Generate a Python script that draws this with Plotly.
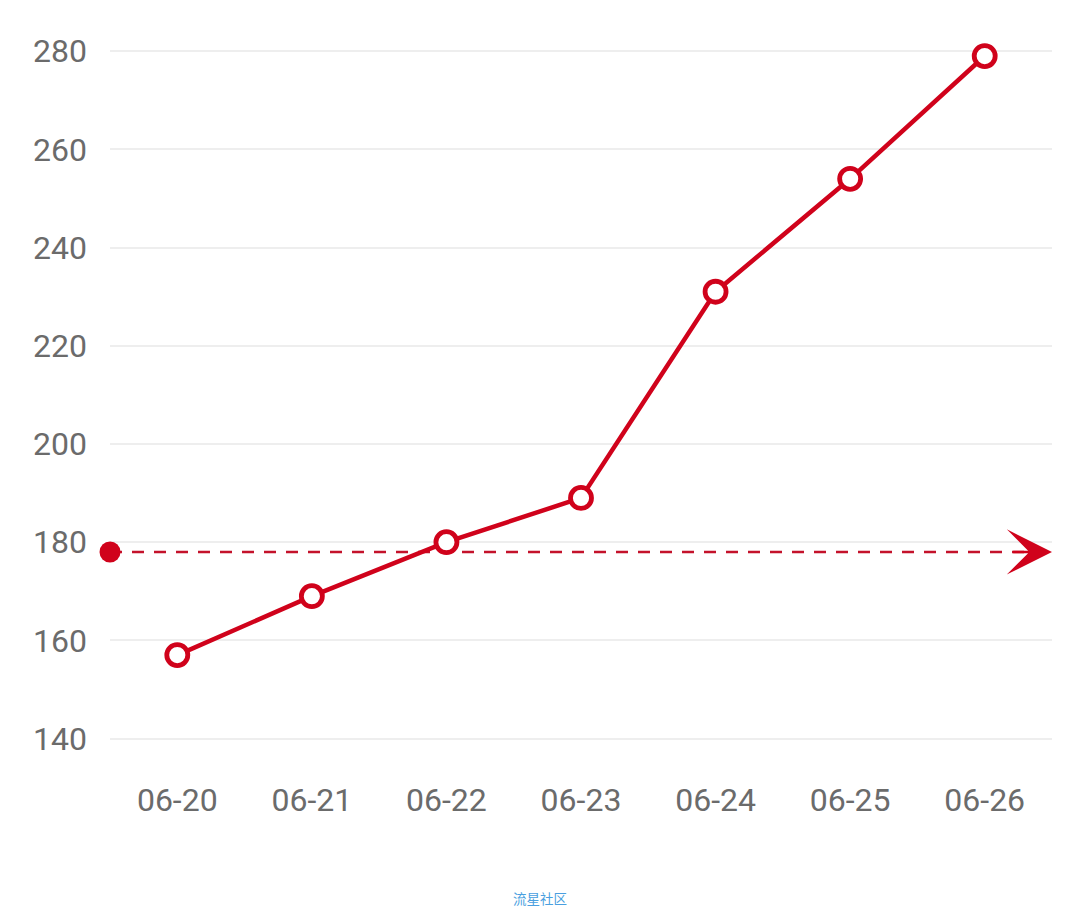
import plotly.graph_objects as go

categories = ["06-20", "06-21", "06-22", "06-23", "06-24", "06-25", "06-26"]
values = [157, 169, 180, 189, 231, 254, 279]
reference_value = 178
y_ticks = [140, 160, 180, 200, 220, 240, 260, 280]

RED = "#d0021b"
RED_DARK = "#c4122b"
GRAY = "#6b6b6b"

x_idx = list(range(len(categories)))
x_lo, x_hi = -0.5, len(categories) - 0.5

fig = go.Figure()

# reference dashed line
fig.add_trace(go.Scatter(
    x=[x_lo, x_hi], y=[reference_value, reference_value],
    mode="lines",
    line=dict(color=RED_DARK, width=2.6, dash="12px,10px"),
    hoverinfo="skip", showlegend=False, cliponaxis=False,
))
# start dot
fig.add_trace(go.Scatter(
    x=[x_lo], y=[reference_value], mode="markers",
    marker=dict(color=RED, size=21, line=dict(width=0)),
    hoverinfo="skip", showlegend=False, cliponaxis=False,
))

# main series
fig.add_trace(go.Scatter(
    x=x_idx, y=values, mode="lines+markers",
    line=dict(color=RED, width=4.5),
    marker=dict(symbol="circle", size=21, color="white",
                line=dict(color=RED, width=4.8)),
    showlegend=False, cliponaxis=False,
))

# arrow head at the end of the reference line
fig.add_annotation(
    x=x_hi, y=reference_value, ax=x_hi - 0.3, ay=reference_value,
    xref="x", yref="y", axref="x", ayref="y",
    showarrow=True, arrowhead=3, arrowsize=2.9, arrowwidth=2.6,
    arrowcolor=RED, text="", standoff=0, startstandoff=0,
)

fig.add_annotation(
    text="流星社区", x=0.4565, y=-0.173, xref="paper", yref="paper",
    xanchor="center", yanchor="middle",
    showarrow=False, font=dict(size=13.5, color="#4a9fe0",
                               family="Noto Sans CJK SC"),
)

fig.update_layout(
    width=1072, height=899,
    margin=dict(l=102, r=28, t=22, b=137),
    paper_bgcolor="white", plot_bgcolor="white",
    font=dict(family="Roboto", size=32, color=GRAY),
    xaxis=dict(
        range=[x_lo, x_hi], tickmode="array", tickvals=x_idx,
        ticktext=categories, showgrid=False, zeroline=False,
        showline=False, ticks="", ticklabelstandoff=8,
        tickfont=dict(family="Roboto", size=32, color=GRAY),
    ),
    yaxis=dict(
        range=[133.6, 284.3], tickmode="array", tickvals=y_ticks,
        showgrid=True, gridcolor="#eeeeee", gridwidth=2,
        zeroline=False, showline=False, ticks="", ticklabelstandoff=22,
        tickfont=dict(family="Roboto", size=32, color=GRAY),
    ),
)

fig.write_html("out.html")
